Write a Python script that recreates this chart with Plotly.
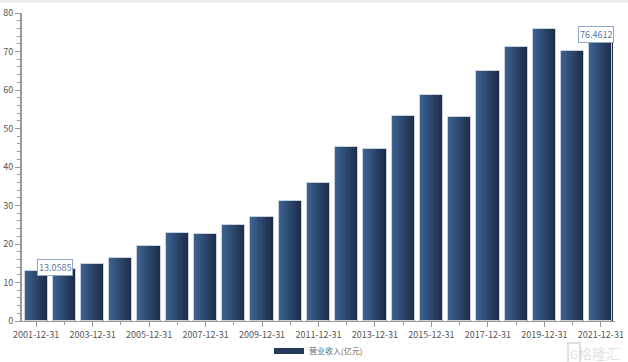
import plotly.graph_objects as go

categories = [f"{y}-12-31" for y in range(2001, 2022)]
revenue = [13.0585, 13.6, 14.7, 16.4, 19.5, 22.8, 22.6, 24.9, 27.0, 31.2, 35.8,
           45.2, 44.7, 53.2, 58.7, 53.0, 64.9, 71.3, 75.8, 70.2, 76.4612]
series_name = "营业收入(亿元)"
y_ticks = [0, 10, 20, 30, 40, 50, 60, 70, 80]

x_idx = list(range(len(categories)))
bar_w = 0.82
n_slices = 14
c_left = (60, 98, 146)
c_right = (29, 45, 71)

fig = go.Figure()
for i in range(n_slices):
    t = i / (n_slices - 1)
    col = tuple(round(c_left[k] + (c_right[k] - c_left[k]) * t) for k in range(3))
    fig.add_trace(go.Bar(
        x=x_idx, y=revenue,
        width=[bar_w / n_slices + 0.002] * len(x_idx),
        offset=-bar_w / 2 + i * bar_w / n_slices,
        marker=dict(color=f"rgb{col}", line=dict(width=0)),
        showlegend=False, hoverinfo="skip",
    ))
# outline
fig.add_trace(go.Bar(
    x=x_idx, y=revenue, width=[bar_w] * len(x_idx), offset=-bar_w / 2,
    marker=dict(color="rgba(0,0,0,0)", line=dict(color="#c9d1dd", width=1)),
    showlegend=False, hoverinfo="skip",
))
# legend entry
fig.add_trace(go.Scatter(
    x=[None], y=[None], name=series_name, mode="lines",
    line=dict(color="rgb(36,58,92)", width=6),
    showlegend=True,
))

tick_color = "#555555"
font_family = "Noto Sans CJK SC, DejaVu Sans, sans-serif"

fig.update_layout(
    width=628, height=362,
    margin=dict(l=22, r=13, t=13, b=41, autoexpand=False),
    paper_bgcolor="white", plot_bgcolor="white",
    barmode="overlay", bargap=0,
    font=dict(family=font_family, size=9, color=tick_color),
    showlegend=True,
    legend=dict(orientation="h", x=0.5, xanchor="center", y=-0.097, yanchor="middle",
                font=dict(size=8, color="#666666"), itemwidth=30,
                bgcolor="rgba(0,0,0,0)"),
    xaxis=dict(
        range=[-0.5, len(categories) - 0.5], automargin=False,
        tickmode="array",
        tickvals=x_idx[::2], ticktext=categories[::2],
        ticks="outside", ticklen=5, tickcolor="#999999",
        showline=True, linecolor="#999999", linewidth=1,
        showgrid=False, zeroline=False,
        tickfont=dict(size=9, color=tick_color),
        minor=dict(tickmode="linear", tick0=0, dtick=1, ticks="outside",
                   ticklen=3, tickcolor="#999999", showgrid=False),
    ),
    yaxis=dict(
        range=[0, 80], automargin=False,
        tickmode="array", tickvals=y_ticks,
        ticks="outside", ticklen=5, tickcolor="#999999",
        showline=True, linecolor="#999999", linewidth=2,
        showgrid=False, zeroline=False,
        tickfont=dict(size=9, color=tick_color),
        minor=dict(tickmode="linear", tick0=0, dtick=2, ticks="outside",
                   ticklen=3, tickcolor="#999999", showgrid=False),
    ),
)

ann_style = dict(showarrow=False, bgcolor="white", bordercolor="#8fa8c8",
                 borderwidth=1, borderpad=1, font=dict(size=9, color="#5a7aa6"))
fig.add_annotation(x=x_idx[0], y=revenue[0], text=f"{revenue[0]:.4f}",
                   xshift=19, yshift=3, **ann_style)
fig.add_annotation(x=x_idx[-1], y=revenue[-1], text=f"{revenue[-1]:.4f}",
                   xshift=-5, yshift=-8, **ann_style)

# watermark
wm = "rgba(200,200,200,0.55)"
fig.add_annotation(xref="paper", yref="paper", x=1.012, y=-0.105, xanchor="right",
                   yanchor="middle", text="格隆汇", showarrow=False,
                   font=dict(size=14, color=wm))
fig.add_annotation(xref="paper", yref="paper", x=0.942, y=-0.105, xanchor="right",
                   yanchor="middle", text="G", showarrow=False,
                   bordercolor=wm, borderwidth=2, borderpad=1,
                   font=dict(size=12, color=wm))
# top band
fig.add_shape(type="rect", xref="paper", yref="paper", x0=-0.05, x1=1.03,
              y0=1.033, y1=1.045, line=dict(width=0), fillcolor="#ececec")

fig.write_html("out.html", config={"displayModeBar": False},
               post_script="document.body.style.margin='0';document.body.style.overflow='hidden';")
